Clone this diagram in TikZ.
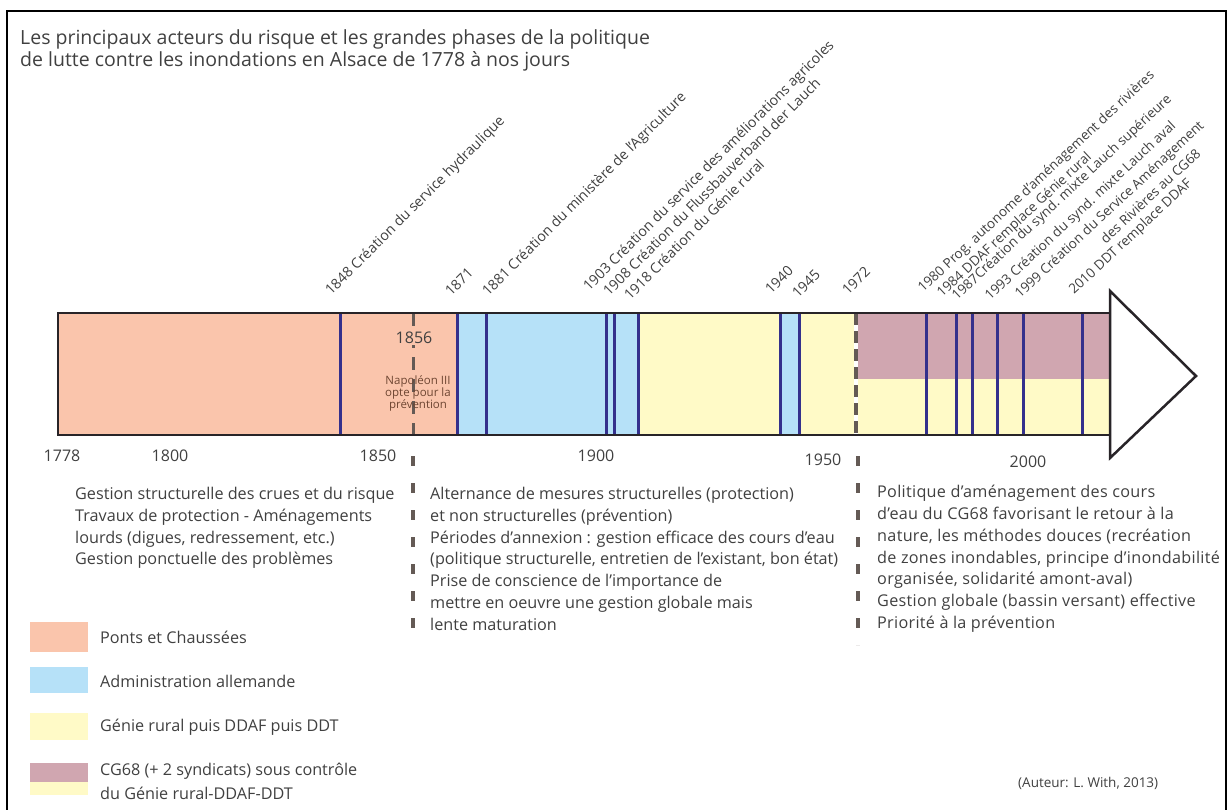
\documentclass[tikz,border=0pt]{standalone}
\usepackage{fontspec}
\setmainfont{Open Sans}
\usetikzlibrary{calc}
\definecolor{pinkf}{RGB}{250,197,172}
\definecolor{bluef}{RGB}{182,225,248}
\definecolor{yellowf}{RGB}{255,250,199}
\definecolor{mauvef}{RGB}{208,166,176}
\definecolor{divc}{RGB}{52,48,140}
\definecolor{txt}{RGB}{64,64,64}
\definecolor{dashc}{RGB}{100,90,85}
\definecolor{barline}{RGB}{40,36,40}
\begin{document}
\begin{tikzpicture}[x=1pt,y=-1pt,
  rbase/.style={anchor=base west, inner sep=0pt, text=txt},
  rlab/.style={rbase, rotate=45, font=\fontsize{14.2}{16}\selectfont},
  rlabb/.style={rbase, rotate=43, font=\fontsize{13.5}{15}\selectfont},
  yr/.style={text=txt, inner sep=0pt, font=\fontsize{16}{18}\selectfont},
  body/.style={anchor=north west, align=left, inner sep=0pt, text=txt, font=\fontsize{16.2}{21.8}\selectfont},
  leg/.style={anchor=west, inner sep=0pt, text=txt, font=\fontsize{16.2}{21}\selectfont},
  divider/.style={draw=divc, line width=3pt},
  tickmark/.style={draw=dashc, line width=3.5pt, dash pattern=on 10pt off 17pt}]
\useasboundingbox (0,0) rectangle (1228,810);
% frame
\draw[line width=2pt, black] (7,812) -- (7,11) -- (1226,11) -- (1226,812);
% title
\node[anchor=north west, align=left, inner sep=0pt, text=txt, font=\fontsize{19.5}{22.5}\selectfont] (title) at (20,29)
 {Les principaux acteurs du risque et les grandes phases de la politique\\de lutte contre les inondations en Alsace de 1778 à nos jours};
% bar fills
\fill[pinkf] (58,313) rectangle (457,435);
\fill[bluef] (457,313) rectangle (638,435);
\fill[yellowf] (638,313) rectangle (780,435);
\fill[bluef] (780,313) rectangle (799,435);
\fill[yellowf] (799,313) rectangle (855,435);
\fill[mauvef] (855,313) rectangle (1110,379);
\fill[yellowf] (855,379) rectangle (1110,435);
% dividers
\foreach \x in {340,457,486,606,614,638,780,799,926,956,972,997,1023,1082}
  \draw[divider] (\x,314) -- (\x,434);
% 1856 dashed
\draw[draw=dashc, line width=3pt, dash pattern=on 13pt off 9pt] (413,313) -- (413,435);
% 1972 dashed
\draw[white, line width=4.5pt] (856,314) -- (856,434);
\draw[draw=dashc, line width=3.5pt, dash pattern=on 12pt off 6pt] (856,313) -- (856,435);
% arrow head and bar border
\draw[barline, line width=2.5pt, fill=white, line join=miter] (1110,291) -- (1196,376) -- (1110,458) -- cycle;
\draw[barline, line width=2.5pt] (58,313) rectangle (1110,435);
% 1856 note
\node[text=txt, font=\fontsize{16}{18}\selectfont, fill=pinkf, inner sep=1pt] (y1856) at (414,338) {1856};
\node[align=center, inner sep=0pt, text={rgb,255:red,110;green,70;blue,50}, font=\fontsize{11.5}{12}\selectfont] (napo) at (418,393) {Napoléon III\\opte pour la\\prévention};
% marks below the bar
\draw[tickmark] (413,456) -- (413,640);
\draw[tickmark] (858,456) -- (858,645);
% year labels
\node[yr] (y1778) at (62,456) {1778};
\node[yr] (y1800) at (170,456) {1800};
\node[yr] (y1850) at (378,456) {1850};
\node[yr] (y1900) at (596,456) {1900};
\node[yr] (y1950) at (823,460) {1950};
\node[yr] (y2000) at (1028,462) {2000};
% rotated labels
\node[rlab] (l1848) at (331,296) {1848 Création du service hydraulique};
\node[rlab] (l1871) at (451,297) {1871};
\node[rlab] (l1881) at (488,297) {1881 Création du ministère de l'Agriculture};
\node[rlab] (l1903) at (589,292) {1903 Création du service des améliorations agricoles};
\node[rlab] (l1908) at (609,297) {1908 Création du Flussbauverband der Lauch};
\node[rlab] (l1918) at (630,301) {1918 Création du Génie rural};
\node[rlab] (l1940) at (771,295) {1940};
\node[rlab] (l1945) at (798,299) {1945};
\node[rlab] (l1972) at (848,296) {1972};
\node[rlabb] (l1980) at (923,293) {1980 Prog. autonome d'aménagement des rivières};
\node[rlabb] (l1984) at (942,298) {1984 DDAF remplace Génie rural};
\node[rlabb] (l1987) at (957,301) {1987Création du synd. mixte Lauch supérieure};
\node[rlabb] (l1993) at (990,301) {1993 Création du synd. mixte Lauch aval};
\node[rlabb] (l1999) at (1020,299) {1999 Création du Service Aménagement};
\node[rlabb, anchor=base east] (l1999b) at ($(l1999.base east)+(-3,28)$) {des Rivières au CG68};
\node[rlabb] (l2010) at (1074,295) {2010 DDT remplace DDAF};
% text blocks
\node[body] (b1) at (75,487) {Gestion structurelle des crues et du risque\\Travaux de protection - Aménagements\\lourds (digues, redressement, etc.)\\Gestion ponctuelle des problèmes};
\node[body] (b2) at (430,487) {Alternance de mesures structurelles (protection)\\et non structurelles (prévention)\\Périodes d'annexion : gestion efficace des cours d'eau\\(politique structurelle, entretien de l'existant, bon état)\\Prise de conscience de l'importance de\\mettre en oeuvre une gestion globale mais\\lente maturation};
\node[body, font=\fontsize{16.2}{21.8}\selectfont\addfontfeatures{LetterSpace=1.8}] (b3) at (877,485) {Politique d'aménagement des cours\\d'eau du CG68 favorisant le retour à la\\nature, les méthodes douces (recréation\\de zones inondables, principe d'inondabilité\\organisée, solidarité amont-aval)\\Gestion globale (bassin versant) effective\\Priorité à la prévention};
% legend
\fill[pinkf] (30,622) rectangle (88,652);
\fill[bluef] (30,667) rectangle (88,693);
\fill[yellowf] (30,713) rectangle (88,740);
\fill[mauvef] (30,763) rectangle (88,782);
\fill[yellowf] (30,782) rectangle (88,795);
\node[leg] (g1) at (100,637) {Ponts et Chaussées};
\node[leg] (g2) at (100,681) {Administration allemande};
\node[leg] (g3) at (100,727) {Génie rural puis DDAF puis DDT};
\node[leg] (g4) at (100,771) {CG68 (+ 2 syndicats) sous contrôle};
\node[leg] (g5) at (100,793) {du Génie rural-DDAF-DDT};
\node[anchor=west, inner sep=0pt, text=txt, font=\fontsize{13.5}{15}\selectfont] (auteur) at (1018,783) {(Auteur: L. With, 2013)};
\end{tikzpicture}
\end{document}
